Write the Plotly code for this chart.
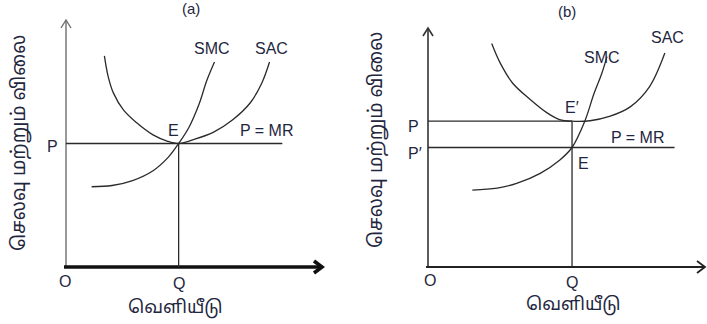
import plotly.graph_objects as go

W, H = 707, 324

# ---------------- data : panel (a) ----------------
Q_a = 4.4
P_a = 5.0
mr_a_end = 8.45
smc_a_x = [1.0, 1.8, 2.6, 3.4, 4.0, 4.4, 4.8, 5.2, 5.5, 5.8]
smc_a_y = [3.25, 3.3, 3.5, 3.9, 4.45, 5.0, 5.65, 6.6, 7.55, 8.3]
sac_a_x = [1.5, 1.65, 1.85, 2.25, 2.75, 3.4, 3.95, 4.4, 4.95, 5.75, 6.5, 7.2, 7.65, 7.95]
sac_a_y = [8.55, 7.7, 7.05, 6.35, 5.85, 5.35, 5.1, 5.0, 5.15, 5.45, 5.95, 6.65, 7.45, 8.3]

# ---------------- data : panel (b) ----------------
Q_b = 5.2
P_b = 6.1
P2_b = 5.0
mr_b_end = 8.9
sac_b_x = [2.3, 2.6, 3.05, 3.7, 4.3, 4.75, 5.2, 5.85, 6.55, 7.3, 8.0, 8.55]
sac_b_y = [9.35, 8.55, 7.7, 7.0, 6.45, 6.17, 6.1, 6.12, 6.3, 6.7, 7.55, 8.95]
smc_b_x = [1.6, 2.5, 3.2, 4.05, 4.75, 5.2, 5.65, 6.0, 6.28, 6.46]
smc_b_y = [3.22, 3.3, 3.5, 3.92, 4.47, 5.0, 6.07, 7.28, 8.12, 8.8]

axis_len = 10.0

y_title = "செலவு மற்றும் விலை"
x_title = "வெளியீடு"

TXT = "#1f2640"
LINE = "#2a2a2a"
LAT = "Liberation Sans, Arial, sans-serif"
TAM = "Noto Sans Tamil, Lohit Tamil, Noto Sans, sans-serif"

# panel geometry (pixels): origin, px per unit, domain box
panels = {
    "a": dict(ox=66, oy=267, sx=25.6, sy=24.7, dx=(30, 345), dy=(5, 300)),
    "b": dict(ox=428, oy=267, sx=27.7, sy=23.9, dx=(390, 707), dy=(5, 300)),
}

fig = go.Figure()

def setup_axes(key, xname, yname):
    p = panels[key]
    xr = [(p["dx"][0] - p["ox"]) / p["sx"], (p["dx"][1] - p["ox"]) / p["sx"]]
    yr = [(p["oy"] - p["dy"][1]) / p["sy"], (p["oy"] - p["dy"][0]) / p["sy"]]
    fig.update_layout({
        xname: dict(domain=[p["dx"][0] / W, p["dx"][1] / W], range=xr, visible=False,
                    anchor=yname.replace("axis", "")),
        yname: dict(domain=[1 - p["dy"][1] / H, 1 - p["dy"][0] / H], range=yr, visible=False,
                    anchor=xname.replace("axis", "")),
    })

setup_axes("a", "xaxis", "yaxis")
setup_axes("b", "xaxis2", "yaxis2")

def line(x, y, xa, ya, color=LINE, width=1.3, shape="linear"):
    fig.add_trace(go.Scatter(x=x, y=y, mode="lines", xaxis=xa, yaxis=ya,
                             line=dict(color=color, width=width, shape=shape),
                             hoverinfo="skip", showlegend=False, cliponaxis=False))

def axes_with_arrows(xa, ya, key, xw, yw, xc, yc):
    p = panels[key]
    ax = 8 / p["sx"]; ay = 6 / p["sy"]
    bx = 5 / p["sx"]; by = 8 / p["sy"]
    line([0, 0], [0, axis_len], xa, ya, color=yc, width=yw)
    line([-2 / p["sx"], axis_len], [0, 0], xa, ya, color=xc, width=xw)
    line([axis_len - ax, axis_len, axis_len - ax], [ay, 0, -ay], xa, ya, color=xc, width=xw)
    line([-bx, 0, bx], [axis_len - by, axis_len, axis_len - by], xa, ya, color=yc, width=max(yw, 1.4))

# ---- panel (a)
axes_with_arrows("x", "y", "a", 3.6, 1.4, "#111111", "#6e6e6e")
line([0, mr_a_end], [P_a, P_a], "x", "y")
line([Q_a, Q_a], [0, P_a], "x", "y")
line(smc_a_x, smc_a_y, "x", "y", shape="spline")
line(sac_a_x, sac_a_y, "x", "y", shape="spline")

# ---- panel (b)
axes_with_arrows("x2", "y2", "b", 1.8, 1.6, "#222222", "#333333")
line([0, Q_b], [P_b, P_b], "x2", "y2")
line([0, mr_b_end], [P2_b, P2_b], "x2", "y2")
line([Q_b, Q_b], [0, P_b], "x2", "y2")
line(sac_b_x, sac_b_y, "x2", "y2", shape="spline")
line(smc_b_x, smc_b_y, "x2", "y2", shape="spline")

def txt(text, x, y, size=16, font=LAT, angle=0, xref="paper", yref="paper"):
    if xref == "paper":
        x = x / W
    if yref == "paper":
        y = 1 - y / H
    fig.add_annotation(text=text, x=x, y=y, xref=xref, yref=yref, showarrow=False,
                       font=dict(family=font, size=size, color=TXT), textangle=angle,
                       xanchor="center", yanchor="middle")

# labels panel (a)
txt("(a)", 191, 8, size=15)
txt("SMC", 212, 48)
txt("SAC", 271, 48)
txt("E", 173, 130)
txt("P = MR", 267, 130)
txt("P", 53, 146)
txt("O", 65, 281)
txt("Q", Q_a, 283, xref="x")
txt(x_title, 175, 308, size=18, font=TAM)
txt(y_title, 20, 143, size=19, font=TAM, angle=-90)

# labels panel (b)
txt("(b)", 567, 12, size=15)
txt("SAC", 667, 38)
txt("SMC", 602, 57)
txt("E′", 572, 107)
txt("P = MR", 638, 137)
txt("E", 583, 163)
txt("P", 413, 127)
txt("P′", 415, 153)
txt("O", 430, 280)
txt("Q", Q_b, 282, xref="x2")
txt(x_title, 573, 305, size=18, font=TAM)
txt(y_title, 377, 140, size=19, font=TAM, angle=-90)

fig.update_layout(width=W, height=H, margin=dict(l=0, r=0, t=0, b=0),
                  paper_bgcolor="white", plot_bgcolor="white", showlegend=False)

fig.write_html("out.html", config={"displayModeBar": False},
               post_script="document.body.style.margin='0';document.body.style.overflow='hidden';")
